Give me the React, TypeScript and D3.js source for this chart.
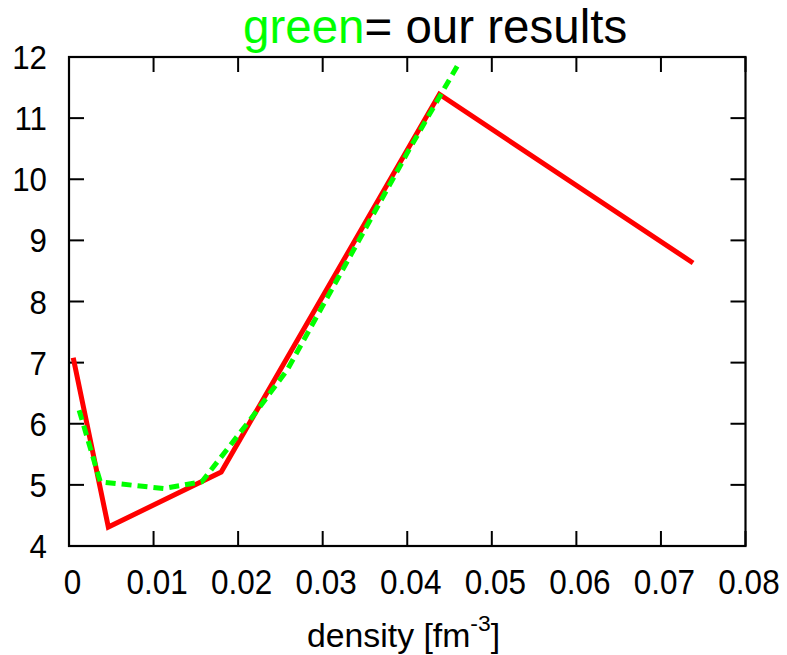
import React from "react";
import * as d3 from "d3";

const xTicks = [0, 0.01, 0.02, 0.03, 0.04, 0.05, 0.06, 0.07, 0.08];
const xTickLabels = ["0", "0.01", "0.02", "0.03", "0.04", "0.05", "0.06", "0.07", "0.08"];
const yTicks = [4, 5, 6, 7, 8, 9, 10, 11, 12];
const yTickLabels = ["4", "5", "6", "7", "8", "9", "10", "11", "12"];

const redX = [0.0005, 0.00465, 0.018, 0.0438, 0.0738];
const redY = [7.08, 4.31, 5.21, 11.39, 8.63];

const greenX = [0.0012, 0.0037, 0.0112, 0.0157, 0.0214, 0.0258, 0.0402, 0.0459];
const greenY = [6.22, 5.05, 4.94, 5.05, 6.06, 6.88, 10.48, 11.85];

const W = 787;
const H = 655;
const left = 69;
const right = 745.5;
const top = 57;
const bottom = 546;
const FONT = "'Liberation Sans', Arial, Helvetica, sans-serif";

export default function App() {
  const x = d3.scaleLinear().domain([0, 0.08]).range([left, right]);
  const y = d3.scaleLinear().domain([4, 12]).range([bottom, top]);
  const line = d3
    .line<[number, number]>()
    .x((d) => x(d[0]))
    .y((d) => y(d[1]));
  const red = redX.map((v, i) => [v, redY[i]] as [number, number]);
  const green = greenX.map((v, i) => [v, greenY[i]] as [number, number]);
  const tickLen = 15;

  return (
    <div style={{ position: "absolute", left: 0, top: 0 }}>
      <svg width={W} height={H} style={{ display: "block", background: "#fff" }}>
        <rect x={0} y={0} width={W} height={H} fill="#fff" />
        {/* title */}
        <text x={243} y={43} fontFamily={FONT} fontSize={47.5} fill="#000">
          <tspan fill="#00ff00">green</tspan>
          <tspan>= our results</tspan>
        </text>
        {/* ticks */}
        {xTicks.map((t, i) => (
          <g key={"xt" + i}>
            <line x1={x(t)} x2={x(t)} y1={bottom} y2={bottom - tickLen} stroke="#000" strokeWidth={2} />
            <line x1={x(t)} x2={x(t)} y1={top} y2={top + tickLen} stroke="#000" strokeWidth={2} />
            <text
              transform={`translate(${x(t) + 3.5},594) scale(0.9,1)`}
              textAnchor="middle"
              fontFamily={FONT}
              fontSize={35}
              fill="#000"
            >
              {xTickLabels[i]}
            </text>
          </g>
        ))}
        {yTicks.map((t, i) => (
          <g key={"yt" + i}>
            <line x1={left} x2={left + tickLen} y1={y(t)} y2={y(t)} stroke="#000" strokeWidth={2} />
            <line x1={right} x2={right - tickLen} y1={y(t)} y2={y(t)} stroke="#000" strokeWidth={2} />
            <text
              transform={`translate(47,${y(t) + 12}) scale(0.92,1)`}
              textAnchor="end"
              fontFamily={FONT}
              fontSize={34}
              fill="#000"
            >
              {yTickLabels[i]}
            </text>
          </g>
        ))}
        {/* data */}
        <path d={line(red) || ""} fill="none" stroke="#ff0000" strokeWidth={5} strokeLinejoin="miter" />
        <path
          d={line(green) || ""}
          fill="none"
          stroke="#00ff00"
          strokeWidth={5}
          strokeDasharray="10,6"
        />
        {/* frame */}
        <rect x={left} y={top} width={right - left} height={bottom - top} fill="none" stroke="#000" strokeWidth={2.2} />
        {/* x label */}
        <text transform={`translate(307,647) scale(1.04,1)`} fontFamily={FONT} fontSize={32.5} fill="#000">
          density [fm
          <tspan dy={-16} fontSize={22}>-3</tspan>
          <tspan dy={16}>]</tspan>
        </text>
      </svg>
    </div>
  );
}
